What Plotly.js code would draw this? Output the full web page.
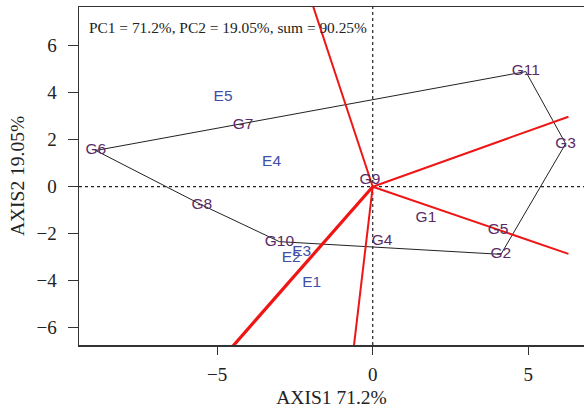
<!DOCTYPE html>
<html>
<head>
<meta charset="utf-8">
<script src="https://cdn.plot.ly/plotly-3.0.1.min.js"></script>
<style>html,body{margin:0;padding:0;background:#fff;}#chart{width:584px;height:408px;}</style>
</head>
<body>
<div id="chart"></div>
<script>
// Genotype scores
const genoNames = ["G1","G2","G3","G4","G5","G6","G7","G8","G9","G10","G11"];
const genoX = [1.71, 4.12, 6.2, 0.3, 4.03, -8.9, -4.17, -5.49, -0.09, -3.0, 4.92];
const genoY = [-1.35, -2.88, 1.83, -2.3, -1.87, 1.54, 2.6, -0.78, 0.27, -2.34, 4.9];
// Environment scores
const envNames = ["E1","E2","E3","E4","E5"];
const envX = [-1.96, -2.62, -2.28, -3.25, -4.81];
const envY = [-4.11, -3.04, -2.77, 1.04, 3.8];
// Polygon (convex hull) order, by genotype name
const hullOrder = ["G6","G11","G3","G2","G10","G8","G6"];
// Red sector lines from the origin (end points)
const rayX = [-2.29, 6.29, 6.29, -4.9, -0.66];
const rayY = [9.18, 2.98, -2.86, -7.4, -7.4];
const rayWidth = [2, 2, 2, 3.2, 2];

const hx = hullOrder.map(n => genoX[genoNames.indexOf(n)]);
const hy = hullOrder.map(n => genoY[genoNames.indexOf(n)]);

const traces = [];
traces.push({x: hx, y: hy, mode: "lines", line: {color: "#222", width: 1}, hoverinfo: "skip", showlegend: false});
for (let i = 0; i < rayX.length; i++) {
  traces.push({x: [0, rayX[i]], y: [0, rayY[i]], mode: "lines", line: {color: "#f01515", width: rayWidth[i]}, hoverinfo: "skip", showlegend: false});
}
traces.push({x: genoX, y: genoY, text: genoNames, mode: "text", textposition: "middle center",
  textfont: {family: "Liberation Sans, Arial, sans-serif", size: 15.5, color: "#5a2a66"}, showlegend: false});
traces.push({x: envX, y: envY, text: envNames, mode: "text", textposition: "middle center",
  textfont: {family: "Liberation Sans, Arial, sans-serif", size: 15.5, color: "#4050a8"}, showlegend: false});

const serif = "Liberation Serif, Times New Roman, serif";
const layout = {
  width: 584, height: 408,
  margin: {l: 79, r: 0, t: 7, b: 63},
  paper_bgcolor: "#fff", plot_bgcolor: "#fff",
  showlegend: false,
  xaxis: {range: [-9.44, 6.79], tickvals: [-5, 0, 5], ticks: "outside", ticklen: 8, tickcolor: "#333",
    ticklabelstandoff: 4,
    showgrid: false, zeroline: false, showline: true, mirror: true, linecolor: "#333", linewidth: 1.5,
    tickfont: {family: serif, size: 19, color: "#222"},
    title: {text: "AXIS1 71.2%", font: {family: serif, size: 19.5, color: "#222"}, standoff: 6}},
  yaxis: {range: [-6.74, 7.65], tickvals: [-6, -4, -2, 0, 2, 4, 6], ticks: "outside", ticklen: 10, tickcolor: "#333",
    ticklabelstandoff: 7,
    showgrid: false, zeroline: false, showline: true, mirror: true, linecolor: "#333", linewidth: 1.5,
    tickfont: {family: serif, size: 19, color: "#222"},
    title: {text: "AXIS2 19.05%", font: {family: serif, size: 19.5, color: "#222"}, standoff: 6}},
  shapes: [
    {type: "line", xref: "x", yref: "paper", x0: 0, x1: 0, y0: 0, y1: 1, line: {color: "#222", width: 1.2, dash: "dot"}, layer: "below"},
    {type: "line", xref: "paper", yref: "y", x0: 0, x1: 1, y0: 0, y1: 0, line: {color: "#222", width: 1.2, dash: "dot"}, layer: "below"}
  ],
  annotations: [{xref: "paper", yref: "paper", x: 0.016, y: 0.938, xanchor: "left", yanchor: "middle", showarrow: false,
    text: "PC1 = 71.2%, PC2 = 19.05%, sum = 90.25%", font: {family: serif, size: 15.4, color: "#222"}}]
};
Plotly.newPlot("chart", traces, layout, {displayModeBar: false, staticPlot: true});
</script>
</body>
</html>
